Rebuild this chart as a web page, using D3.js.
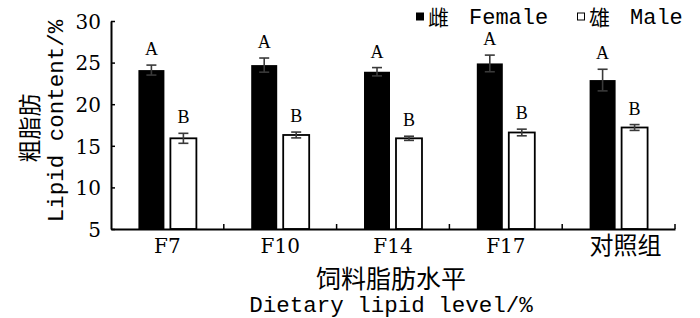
<!DOCTYPE html>
<html>
<head>
<meta charset="utf-8">
<script src="https://cdn.jsdelivr.net/npm/d3@7"></script>
<style>
  body { margin: 0; background: #fff; }
  svg { display: block; }
</style>
</head>
<body>
<div id="wrapper"></div>
<script>
const categories = ['F7', 'F10', 'F14', 'F17', '对照组']
const series = ['Female', 'Male']
const femaleValues = [24.1, 24.7, 23.9, 24.9, 22.9]
const femaleErrors = [0.6, 0.85, 0.5, 1.0, 1.3]
const maleValues = [15.9, 16.3, 15.9, 16.6, 17.2]
const maleErrors = [0.6, 0.35, 0.25, 0.4, 0.35]
const femaleLetters = ['A', 'A', 'A', 'A', 'A']
const maleLetters = ['B', 'B', 'B', 'B', 'B']
const yTicks = [5, 10, 15, 20, 25, 30]

const serif = '"DejaVu Serif", serif'
const letterFont = '"Liberation Serif", serif'
const mono = '"Liberation Mono", "Courier New", monospace'
const cjk = '"Noto Sans CJK SC", sans-serif'

let dms = {
    width: 700,
    height: 318,
    margin: { top: 21, right: 25, bottom: 89, left: 111 }
}
dms.chartWidth = dms.width - dms.margin.left - dms.margin.right
dms.chartHeight = dms.height - dms.margin.top - dms.margin.bottom

const wrapper = d3.select('#wrapper')
    .append('svg')
    .attr('width', dms.width)
    .attr('height', dms.height)
const bounds = wrapper.append('g')
    .attr('transform', `translate(${dms.margin.left}, ${dms.margin.top})`)

// flatten to rows
const rows = []
categories.forEach((c, i) => {
    rows.push({ cat: c, s: 'Female', v: femaleValues[i], e: femaleErrors[i], l: femaleLetters[i] })
    rows.push({ cat: c, s: 'Male', v: maleValues[i], e: maleErrors[i], l: maleLetters[i] })
})

// scales
const xScale = d3.scaleBand()
    .domain(categories)
    .range([0, dms.chartWidth])
    .paddingInner(0.486)
    .paddingOuter(0.243)
const xSub = d3.scaleBand()
    .domain(series)
    .range([0, xScale.bandwidth()])
    .paddingInner(0.1875)
const yScale = d3.scaleLinear()
    .domain([5, 30])
    .range([dms.chartHeight, 0])

// bars
bounds.append('g')
    .selectAll('rect')
    .data(rows)
    .join('rect')
    .attr('x', d => xScale(d.cat) + xSub(d.s))
    .attr('y', d => yScale(d.v))
    .attr('width', xSub.bandwidth())
    .attr('height', d => dms.chartHeight - yScale(d.v))
    .attr('fill', d => d.s === 'Female' ? '#000' : '#fff')
    .attr('stroke', '#000')
    .attr('stroke-width', d => d.s === 'Female' ? 0 : 1.8)

// error bars
const errs = bounds.append('g')
    .selectAll('g')
    .data(rows)
    .join('g')
    .attr('stroke', '#3a3a3a')
    .attr('stroke-width', 1.6)
const cx = d => xScale(d.cat) + xSub(d.s) + xSub.bandwidth() / 2
errs.append('line')
    .attr('x1', cx).attr('x2', cx)
    .attr('y1', d => yScale(d.v + d.e))
    .attr('y2', d => yScale(d.v - d.e))
errs.append('line')
    .attr('x1', d => cx(d) - 5).attr('x2', d => cx(d) + 5)
    .attr('y1', d => yScale(d.v + d.e)).attr('y2', d => yScale(d.v + d.e))
errs.append('line')
    .attr('x1', d => cx(d) - 5).attr('x2', d => cx(d) + 5)
    .attr('y1', d => yScale(d.v - d.e)).attr('y2', d => yScale(d.v - d.e))

// significance letters
bounds.append('g')
    .selectAll('text')
    .data(rows)
    .join('text')
    .attr('x', cx)
    .attr('y', d => yScale(d.v + d.e) - 10)
    .text(d => d.l)
    .style('text-anchor', 'middle')
    .style('font-family', letterFont)
    .style('font-size', '18px')

// y axis
const yAxisGenerator = d3.axisLeft(yScale)
    .tickValues(yTicks)
    .tickSizeInner(-4)
    .tickSizeOuter(0)
    .tickPadding(10)
const yAxis = bounds.append('g').call(yAxisGenerator)
yAxis.select('.domain').attr('stroke-width', 2)
yAxis.selectAll('.tick line').attr('stroke-width', 1.5)
yAxis.selectAll('.tick text')
    .style('font-family', serif)
    .style('font-size', '20px')
    .attr('dy', '0.36em')
    .attr('fill', '#000')

// x axis
const xAxisGenerator = d3.axisBottom(xScale)
    .tickSize(0)
    .tickPadding(10)
const xAxis = bounds.append('g')
    .attr('transform', `translate(0, ${dms.chartHeight})`)
    .call(xAxisGenerator)
xAxis.select('.domain').attr('stroke-width', 2)
xAxis.selectAll('.tick text')
    .style('font-family', d => d === '对照组' ? cjk : serif)
    .style('font-size', d => d === '对照组' ? '24px' : '20px')
    .attr('dx', d => d === '对照组' ? 7 : 0)
    .attr('dy', d => d === '对照组' ? '0.62em' : '0.72em')
    .attr('fill', '#000')

// boundary ticks between groups
const step = xScale.step()
const bounds_x = categories.slice(1).map(c => xScale(c) - step * xScale.paddingInner() / 2)
bounds_x.push(dms.chartWidth)
xAxis.append('g')
    .selectAll('line')
    .data(bounds_x)
    .join('line')
    .attr('x1', d => d).attr('x2', d => d)
    .attr('y1', 0).attr('y2', -5)
    .attr('stroke', '#000')
    .attr('stroke-width', 1.5)

// axis titles
wrapper.append('text')
    .attr('x', 391)
    .attr('y', 288)
    .text('饲料脂肪水平')
    .style('text-anchor', 'middle')
    .style('font-family', cjk)
    .style('font-size', '25px')
wrapper.append('text')
    .attr('x', 391)
    .attr('y', 312)
    .text('Dietary lipid level/%')
    .style('text-anchor', 'middle')
    .style('font-family', mono)
    .style('font-size', '22.5px')

wrapper.append('text')
    .attr('transform', 'translate(38, 128) rotate(-90)')
    .text('粗脂肪')
    .style('text-anchor', 'middle')
    .style('font-family', cjk)
    .style('font-size', '23px')
wrapper.append('text')
    .attr('transform', 'translate(63, 121) rotate(-90)')
    .text('Lipid content/%')
    .style('text-anchor', 'middle')
    .style('font-family', mono)
    .style('font-size', '22.5px')

// legend
const legendItems = [
    { x: 416, fill: '#000', cn: '雌', en: 'Female' },
    { x: 577, fill: '#fff', cn: '雄', en: 'Male' }
]
const legend = wrapper.append('g')
    .selectAll('g')
    .data(legendItems)
    .join('g')
    .attr('transform', d => `translate(${d.x}, 0)`)
legend.append('rect')
    .attr('x', 0.5).attr('y', 13)
    .attr('width', 7).attr('height', 7)
    .attr('fill', d => d.fill)
    .attr('stroke', '#000')
    .attr('stroke-width', 1)
legend.append('text')
    .attr('x', 12).attr('y', 25)
    .text(d => d.cn)
    .style('font-family', cjk)
    .style('font-size', '21px')
legend.append('text')
    .attr('x', 53).attr('y', 24)
    .text(d => d.en)
    .style('font-family', mono)
    .style('font-size', '22px')
</script>
</body>
</html>
